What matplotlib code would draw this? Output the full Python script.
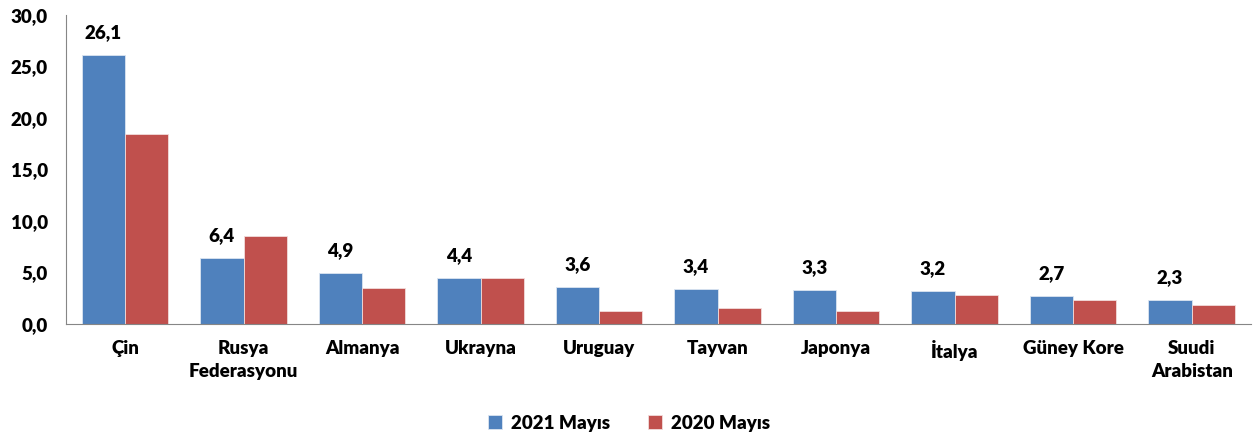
import matplotlib
import matplotlib.pyplot as plt
from matplotlib.ticker import FuncFormatter
import numpy as np

matplotlib.use('Agg')

countries = ['Çin', 'Rusya\nFederasyonu', 'Almanya', 'Ukrayna', 'Uruguay',
             'Tayvan', 'Japonya', 'İtalya', 'Güney Kore', 'Suudi\nArabistan']
may_2021 = [26.1, 6.4, 4.9, 4.4, 3.6, 3.4, 3.3, 3.2, 2.7, 2.3]
may_2020 = [18.4, 8.5, 3.5, 4.4, 1.2, 1.5, 1.2, 2.8, 2.3, 1.8]
series_names = ['2021 Mayıs', '2020 Mayıs']

plt.rcParams['font.family'] = ['Lato', 'DejaVu Sans']
plt.rcParams['font.weight'] = 'heavy'
FS = 13.5

fig = plt.figure(figsize=(12.58, 4.4), dpi=100)
ax = fig.add_axes([0.0523, 0.2643, 0.9421, 0.7017])

x = np.arange(len(countries))
width = 0.365
bars_2021 = ax.bar(x - width / 2, may_2021, width, color='#4F81BD', label=series_names[0],
                   edgecolor='#dbe5f1', linewidth=0.6)
bars_2020 = ax.bar(x + width / 2, may_2020, width, color='#C0504D', label=series_names[1],
                   edgecolor='#f2dcdb', linewidth=0.6)

# value labels only on the 2021 bars
for bar, value in zip(bars_2021, may_2021):
    ax.annotate(f'{value:.1f}'.replace('.', ','),
                xy=(bar.get_x() + bar.get_width() / 2, bar.get_height()),
                xytext=(0, 10), textcoords='offset points',
                ha='center', va='bottom', fontsize=FS, fontweight='heavy')

ax.set_xlim(-0.5, len(countries) - 0.5)
ax.set_ylim(0, 30)
ax.set_yticks(np.arange(0, 31, 5))
ax.yaxis.set_major_formatter(FuncFormatter(lambda v, _: f'{v:.1f}'.replace('.', ',')))
ax.set_xticks(x)
ax.set_xticklabels(countries, linespacing=1.4)

ax.tick_params(axis='both', length=0, labelsize=FS, colors='black')
ax.tick_params(axis='y', pad=13)
ax.tick_params(axis='x', pad=12)
for label in ax.get_xticklabels() + ax.get_yticklabels():
    label.set_fontweight('heavy')

ax.spines['top'].set_visible(False)
ax.spines['right'].set_visible(False)
ax.spines['left'].set_color('#868686')
ax.spines['bottom'].set_color('#868686')

fig.legend(handles=[bars_2021, bars_2020], labels=series_names, loc='center',
           bbox_to_anchor=(0.5, 0.038), ncol=2, frameon=False, fontsize=FS,
           handlelength=0.75, handleheight=0.75, columnspacing=2.0, handletextpad=0.5)

plt.savefig('out.png', dpi=100)
plt.close()
